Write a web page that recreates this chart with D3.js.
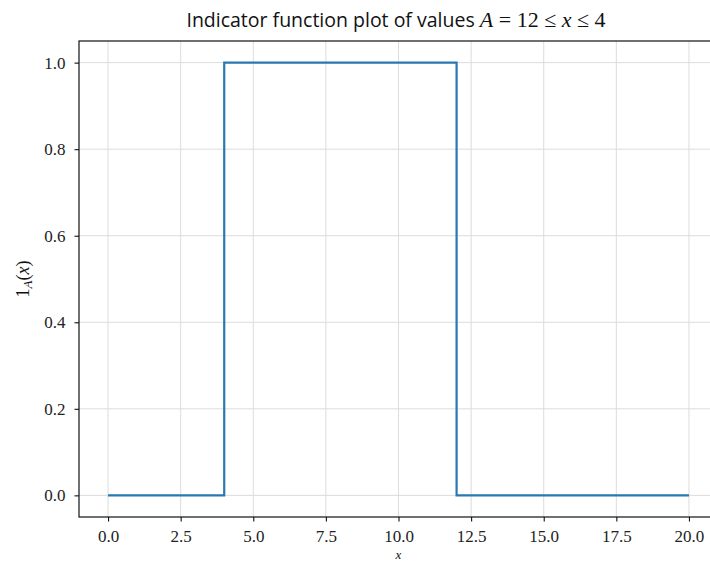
<!DOCTYPE html>
<html>
<head>
<meta charset="utf-8">
<script src="https://cdn.jsdelivr.net/npm/d3@7"></script>
<style>
  html, body { margin: 0; padding: 0; background: #fff; }
  svg { display: block; }
  .tick text { font-family: "Liberation Serif", "DejaVu Serif", serif; font-size: 17px; fill: #222; }
</style>
</head>
<body>
<svg id="chart" width="710" height="562"></svg>
<script>
// Data
const xValues = [0, 4, 4, 12, 12, 20];
const yValues = [0, 0, 1, 1, 0, 0];
const xTicks = [0, 2.5, 5, 7.5, 10, 12.5, 15, 17.5, 20];
const yTicks = [0, 0.2, 0.4, 0.6, 0.8, 1.0];
const xDomain = [-1, 21];
const yDomain = [-0.05, 1.05];

const svg = d3.select("#chart");
const mLeft = 79, mRight = 718, mTop = 41, mBottom = 517;

const x = d3.scaleLinear().domain(xDomain).range([mLeft, mRight]);
const y = d3.scaleLinear().domain(yDomain).range([mBottom, mTop]);

// grid
const g = svg.append("g");
g.selectAll(".gx").data(xTicks).enter().append("line")
  .attr("x1", d => x(d)).attr("x2", d => x(d))
  .attr("y1", mTop).attr("y2", mBottom)
  .attr("stroke", "#dcdcdc").attr("stroke-width", 1);
g.selectAll(".gy").data(yTicks).enter().append("line")
  .attr("x1", mLeft).attr("x2", mRight)
  .attr("y1", d => y(d)).attr("y2", d => y(d))
  .attr("stroke", "#dcdcdc").attr("stroke-width", 1);

// line
const pts = xValues.map((v, i) => [v, yValues[i]]);
svg.append("path")
  .datum(pts)
  .attr("fill", "none")
  .attr("stroke", "#2a78b0")
  .attr("stroke-width", 2.2)
  .attr("stroke-linejoin", "miter")
  .attr("d", d3.line().x(d => x(d[0])).y(d => y(d[1])));

// axes
const fmt = d3.format(".1f");
const xAxis = svg.append("g")
  .attr("transform", `translate(0,${mBottom})`)
  .call(d3.axisBottom(x).tickValues(xTicks).tickFormat(fmt).tickSize(4.5).tickPadding(8).tickSizeOuter(0));
const yAxis = svg.append("g")
  .attr("transform", `translate(${mLeft},0)`)
  .call(d3.axisLeft(y).tickValues(yTicks).tickFormat(fmt).tickSize(4.5).tickPadding(9).tickSizeOuter(0));
[xAxis, yAxis].forEach(a => {
  a.select(".domain").remove();
  a.selectAll(".tick line").attr("stroke", "#111").attr("stroke-width", 1.1);
});

// spines
svg.append("rect")
  .attr("x", mLeft).attr("y", mTop)
  .attr("width", mRight - mLeft).attr("height", mBottom - mTop)
  .attr("fill", "none").attr("stroke", "#111").attr("stroke-width", 1.2);

// title
const title = svg.append("text")
  .attr("x", 396).attr("y", 27)
  .attr("text-anchor", "middle")
  .attr("font-family", "'Open Sans', 'DejaVu Sans', sans-serif")
  .attr("font-size", 19.5)
  .attr("fill", "#111");
title.append("tspan").text("Indicator function plot of values ");
title.append("tspan").attr("font-family", "'Liberation Serif', serif").attr("font-style", "italic").attr("font-size", 22).text("A");
title.append("tspan").attr("font-family", "'Liberation Serif', serif").attr("font-size", 22).text(" = 12 ≤ ");
title.append("tspan").attr("font-family", "'Liberation Serif', serif").attr("font-style", "italic").attr("font-size", 22).text("x");
title.append("tspan").attr("font-family", "'Liberation Serif', serif").attr("font-size", 22).text(" ≤ 4");

// y label
const yl = svg.append("text")
  .attr("transform", `translate(29,${(mTop + mBottom) / 2}) rotate(-90)`)
  .attr("text-anchor", "middle")
  .attr("font-family", "'Liberation Serif', serif")
  .attr("font-size", 18)
  .attr("fill", "#111");
yl.append("tspan").text("1");
yl.append("tspan").attr("font-style", "italic").attr("font-size", 13).attr("dy", 3).text("A");
yl.append("tspan").attr("dy", -3).text("(");
yl.append("tspan").attr("font-style", "italic").text("x");
yl.append("tspan").text(")");

// x label
svg.append("text")
  .attr("x", (mLeft + mRight) / 2).attr("y", 559)
  .attr("text-anchor", "middle")
  .attr("font-family", "'Liberation Serif', serif")
  .attr("font-style", "italic")
  .attr("font-size", 13)
  .attr("fill", "#111")
  .text("x");
</script>
</body>
</html>
